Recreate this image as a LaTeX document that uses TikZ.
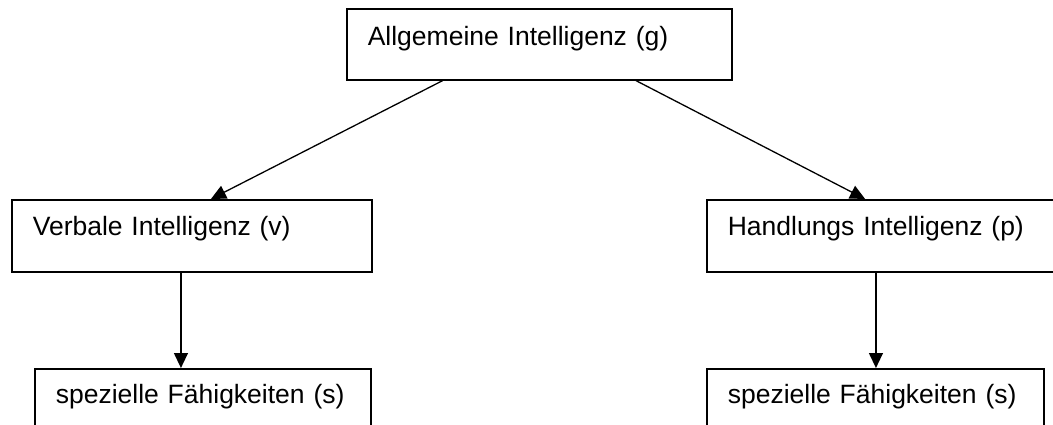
\documentclass[tikz,border=0pt]{standalone}
\usepackage{fontspec}
\setmainfont{Liberation Sans}
\usetikzlibrary{arrows.meta, positioning, calc}

\tikzset{
    ibox/.style={draw, rectangle, line width=1.6pt, anchor=north west, align=left,
        inner xsep=21pt, inner ysep=0pt, text width=318pt,
        text height=36pt, text depth=36pt, font=\fontsize{26.5}{30}\selectfont},
    arr/.style={line width=1.3pt, -{Triangle[length=15pt,width=14pt]}}
}

\begin{document}
\begin{tikzpicture}[x=1pt, y=-1pt]
\useasboundingbox (0,0) rectangle (1053,425);
\clip (0,0) rectangle (1053,425);

% Boxes
\node[ibox, text width=343pt, text height=37pt, text depth=34pt] (g) at (346,8) {Allgemeine Intelligenz (g)};
\node[ibox] (v) at (11,199) {Verbale Intelligenz (v)};
\node[ibox] (p) at (706,199) {Handlungs Intelligenz (p)};
\node[ibox, text width=294pt, text height=35pt, text depth=37pt] (sv) at (34,368) {spezielle Fähigkeiten (s)};
\node[ibox, text width=295pt, text height=35pt, text depth=37pt] (sp) at (706,368) {spezielle Fähigkeiten (s)};

% Arrows
\draw[arr] ($(g.south west)!0.25!(g.south east)$) -- ($(v.north west)!0.553!(v.north east)$);
\draw[arr] ($(g.south west)!0.75!(g.south east)$) -- ($(p.north west)!0.44!(p.north east)$);
\draw[arr] ($(v.south west)!0.47!(v.south east)$) coordinate (va) -- (va |- sv.north);
\draw[arr] ($(p.south west)!0.47!(p.south east)$) coordinate (pa) -- (pa |- sp.north);
\end{tikzpicture}
\end{document}
